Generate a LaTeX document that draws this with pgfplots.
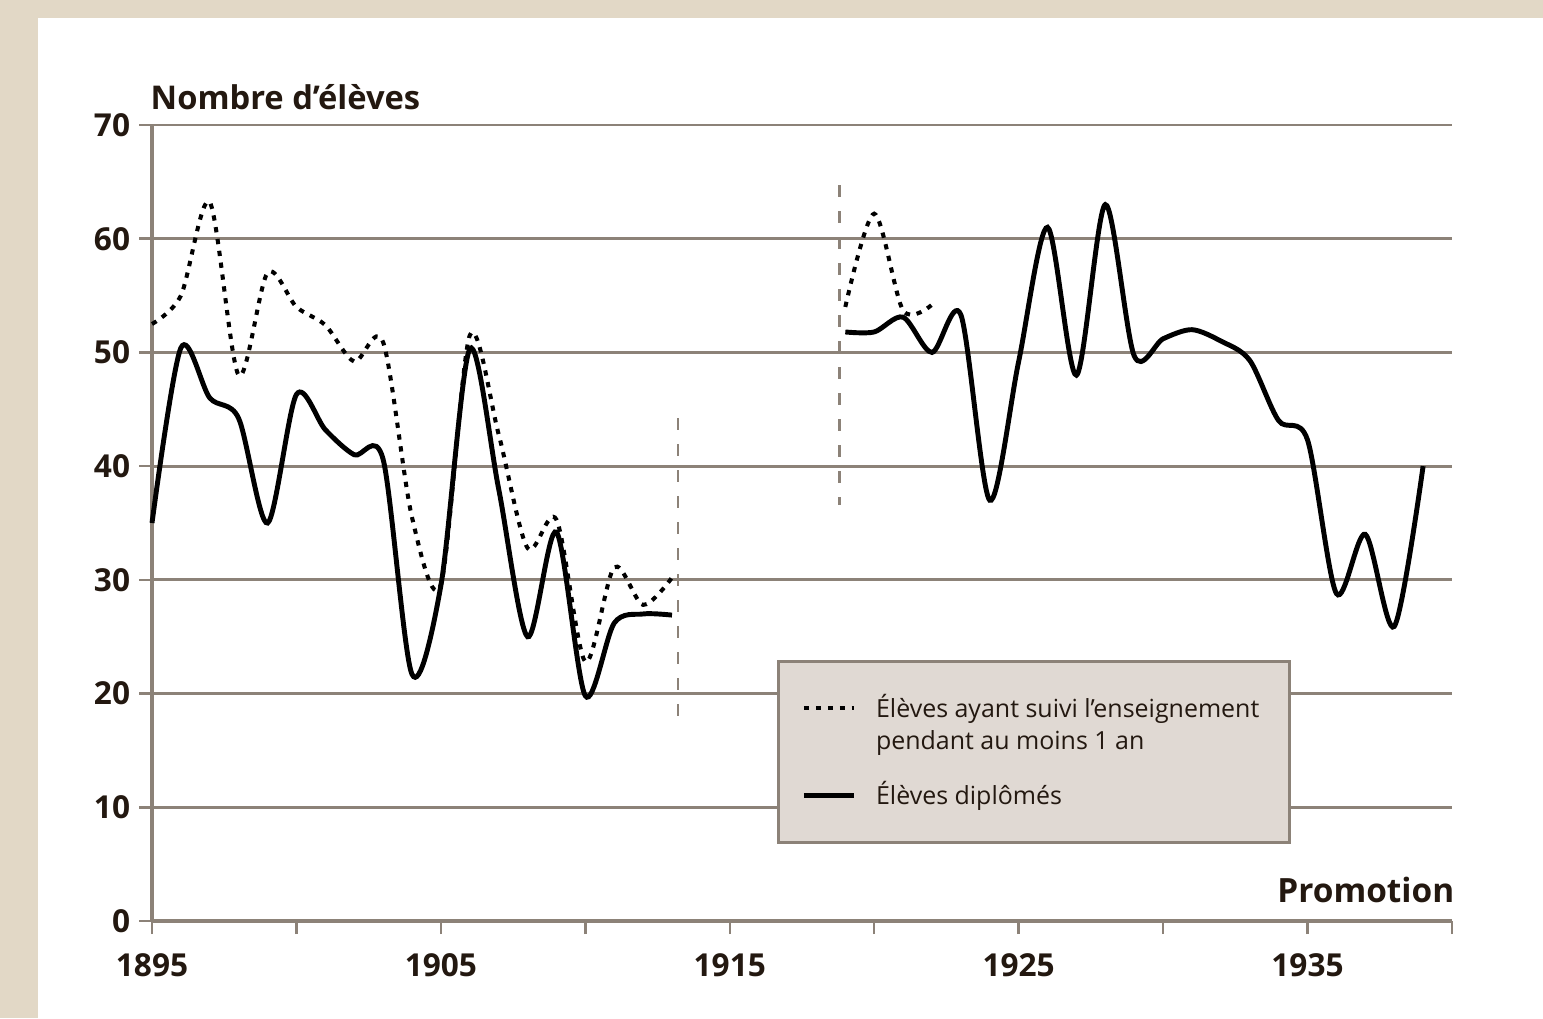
\documentclass[border=0pt]{standalone}
\usepackage{pgfplots}
\pgfplotsset{compat=1.18}
\usepackage{fontspec}
\setmainfont{Open Sans}
\definecolor{bg}{RGB}{226,216,198}
\definecolor{gridc}{RGB}{140,130,120}
\definecolor{legfill}{RGB}{224,217,211}
\definecolor{txt}{RGB}{35,24,16}
\pgfplotsset{
  dotleg/.style={legend image code/.code={\path[draw=none,fill=none] (0cm,-4.6pt) rectangle (0.5cm,4.6pt); \draw[##1] (0cm,4.6pt) -- (0.5cm,4.6pt);}},
  lineleg/.style={legend image code/.code={\draw[##1] (0cm,0cm) -- (0.5cm,0cm);}},
}
\begin{document}
\begin{tikzpicture}[x=1cm,y=1cm]
\fill[bg] (0,0) rectangle (15.43,10.18);
\fill[white] (0.38,0) rectangle (15.43,10.0);
\begin{axis}[
  at={(1.52cm,0.97cm)}, anchor=south west,
  scale only axis, width=13cm, height=7.96cm,
  xmin=1895, xmax=1940, ymin=0, ymax=70,
  axis lines=left, axis line style={-, gridc, line width=0.9pt},
  xtick={1895,1900,...,1940},
  xticklabels={1895,,1905,,1915,,1925,,1935,},
  ytick={0,10,...,70},
  ymajorgrids, grid style={gridc, line width=0.8pt},
  tick align=outside, major tick length=1.3mm,
  tick style={gridc, line width=0.7pt},
  ticklabel style={font=\bfseries\fontsize{9}{11}\selectfont, text=txt},
  x tick label style={yshift=-2pt},
  y tick label style={xshift=1pt},
  /pgf/number format/assume math mode=true,
  clip=false,
  legend style={at={(axis cs:1916.63,22.95)}, anchor=north west,
    fill=legfill, draw=gridc, line width=0.8pt,
    font=\fontsize{7.1}{9.2}\selectfont, text=txt,
    inner xsep=6.6pt, inner ysep=7.3pt, row sep=3.5pt, column sep=3.6pt,
    cells={anchor=west, align=left}},
]
\addplot[black, line width=1.15pt, dash pattern=on 1.5pt off 1.9pt, smooth, tension=0.5, dotleg]
  coordinates {(1895,52.5) (1896,55) (1897,63.2) (1898,48) (1899,57) (1900,54) (1901,52.4)
  (1902,49.2) (1903,50.9) (1904,35.5) (1905,29.6) (1906,51.5) (1907,42.8) (1908,32.8)
  (1909,35.3) (1910,22.8) (1911,31.1) (1912,27.8) (1913,30.2)};
\addlegendentry{Élèves ayant suivi l'enseignement\\pendant au moins 1 an}
\addplot[black, line width=1.4pt, smooth, tension=0.5, lineleg]
  coordinates {(1895,35) (1896,50.4) (1897,46) (1898,44.2) (1899,35) (1900,46.3) (1901,43.2)
  (1902,41) (1903,40.6) (1904,21.7) (1905,29.5) (1906,50.3) (1907,38) (1908,25)
  (1909,34.2) (1910,19.8) (1911,26.2) (1912,27) (1913,26.9)};
\addlegendentry{Élèves diplômés}
\addplot[black, line width=1.15pt, dash pattern=on 1.5pt off 1.9pt, smooth, tension=0.5, forget plot]
  coordinates {(1919,54) (1920,62.2) (1921,53.7) (1922,54.2)};
\addplot[black, line width=1.4pt, smooth, tension=0.5, forget plot]
  coordinates {(1919,51.8) (1920,51.8) (1921,53.1) (1922,50) (1923,53.3) (1924,37)
  (1925,49.2) (1926,61) (1927,48) (1928,63) (1929,49.7) (1930,51.2) (1931,52)
  (1932,51) (1933,49.3) (1934,44) (1935,42.3) (1936,28.8) (1937,34) (1938,25.9) (1939,40)};
\addplot[gridc, line width=0.6pt, dash pattern=on 3.4pt off 4pt, forget plot]
  coordinates {(1913.2,44.2) (1913.2,16.8)};
\addplot[gridc, line width=0.6pt, dash pattern=on 3.4pt off 4pt, forget plot]
  coordinates {(1918.8,64.7) (1918.8,36.6)};
\end{axis}
\node[anchor=base west, text=txt, font=\bfseries\fontsize{9.3}{11}\selectfont, inner sep=0pt] at (1.50,9.09) {Nombre d'élèves};
\node[anchor=base east, text=txt, font=\bfseries\fontsize{9.5}{11}\selectfont, inner sep=0pt] at (14.55,1.16) {Promotion};
\pgfresetboundingbox
\path[use as bounding box] (0,0) rectangle (15.43,10.18);
\end{tikzpicture}
\end{document}
